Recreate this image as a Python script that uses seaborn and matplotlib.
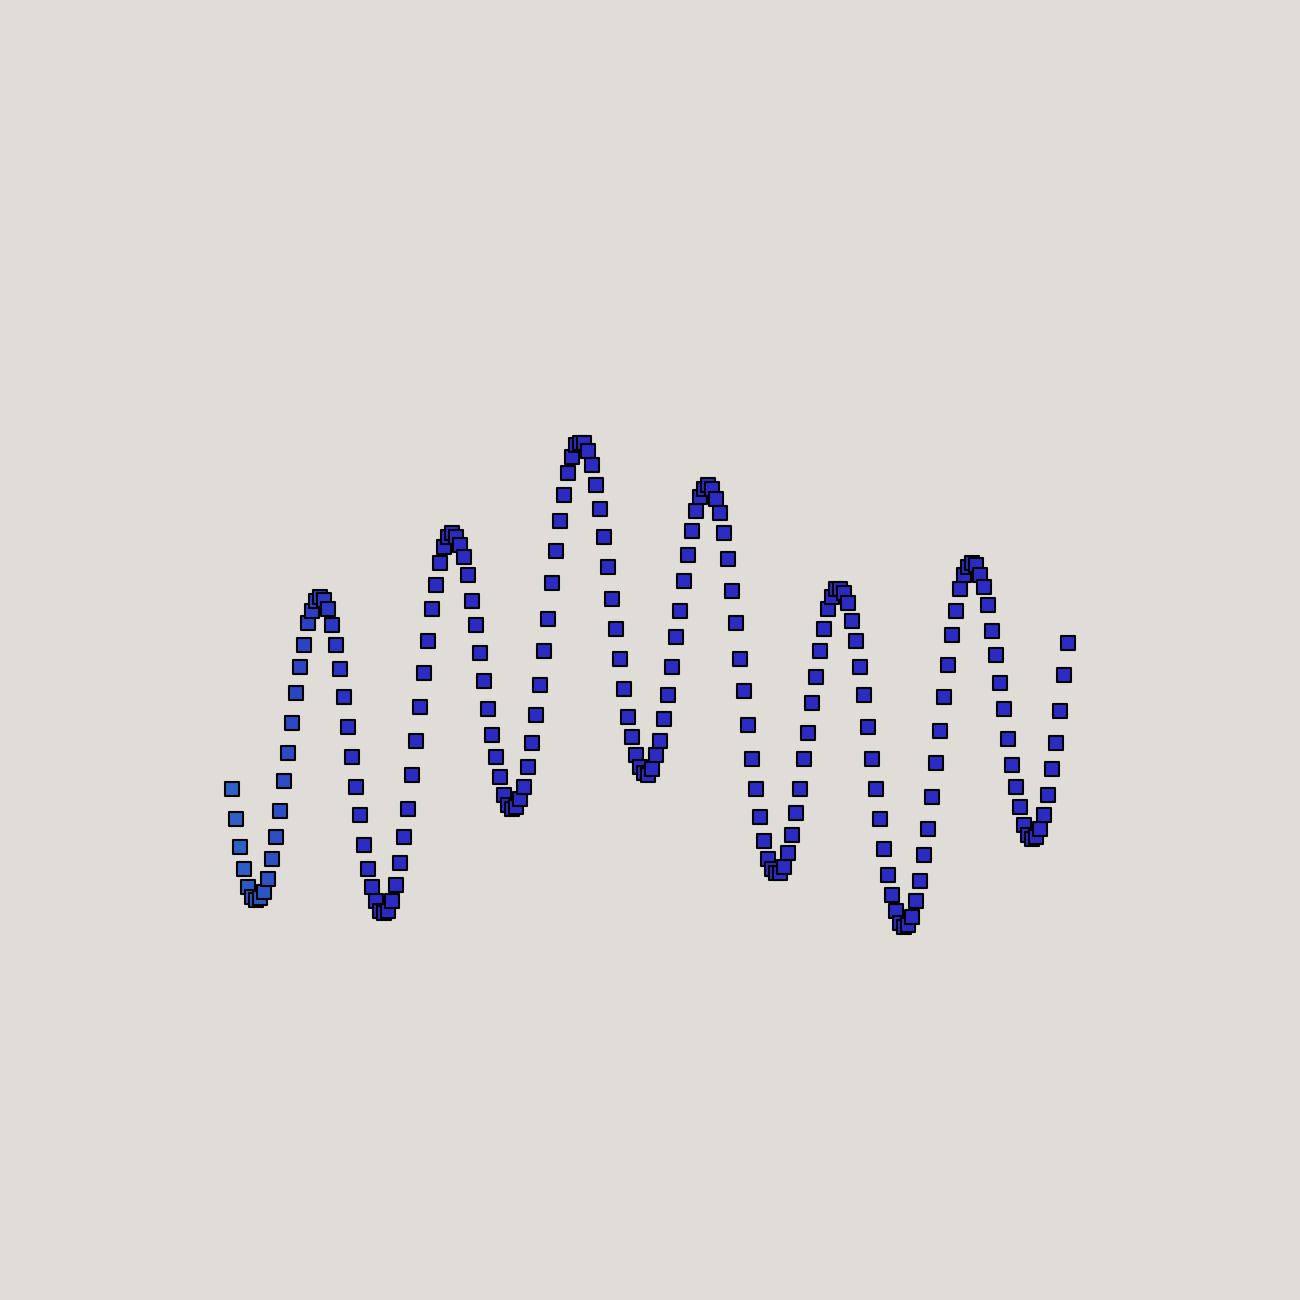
import matplotlib
matplotlib.use("Agg")
import matplotlib.pyplot as plt
from matplotlib.colors import LinearSegmentedColormap
import seaborn as sns
import pandas as pd

# sample index and signal height
step = list(range(210))
signal = [
    511, 481, 453, 431, 413, 403, 400, 402, 408, 421,
    441, 463, 489, 519, 547, 577, 607, 633, 655, 677,
    689, 699, 703, 700, 691, 675, 655, 631, 603, 573,
    543, 513, 485, 455, 431, 413, 399, 389, 387, 389,
    399, 415, 437, 463, 491, 525, 559, 593, 627, 659,
    691, 715, 737, 753, 763, 767, 763, 755, 743, 725,
    699, 675, 647, 619, 591, 565, 543, 523, 505, 495,
    491, 493, 501, 513, 533, 557, 585, 615, 649, 681,
    717, 749, 779, 805, 827, 843, 855, 857, 857, 849,
    835, 815, 791, 763, 733, 701, 671, 641, 611, 583,
    563, 545, 533, 527, 525, 531, 545, 559, 581, 605,
    633, 663, 689, 719, 745, 769, 789, 803, 811, 815,
    811, 801, 787, 767, 741, 709, 677, 641, 609, 575,
    541, 511, 483, 459, 441, 431, 427, 427, 433, 447,
    465, 487, 511, 541, 567, 597, 623, 649, 671, 691,
    703, 711, 711, 707, 697, 679, 659, 633, 605, 573,
    541, 511, 481, 451, 425, 405, 389, 377, 373, 375,
    383, 399, 419, 445, 471, 503, 537, 569, 603, 635,
    665, 689, 711, 725, 733, 737, 735, 725, 713, 695,
    669, 645, 617, 591, 561, 535, 513, 493, 475, 465,
    461, 463, 471, 485, 505, 531, 557, 589, 625, 657,
]

df = pd.DataFrame({"step": step, "signal": signal})

background_color = "#e0ddd9"
cmap = LinearSegmentedColormap.from_list("fade", ["#2c62c6", "#2b2bc4"])

f = plt.figure(figsize=(13, 13), dpi=100)
f.set_facecolor(background_color)
ax = f.add_axes([0, 0, 1, 1])
ax.set_facecolor(background_color)

sns.scatterplot(data=df, x="step", y="signal",
                hue="step", palette=cmap, hue_norm=(0, 32),
                marker="s", s=108,
                edgecolor="black", linewidth=1.5,
                legend=False, ax=ax)

ax.set_xlim(-58, 267)
ax.set_ylim(0, 1300)
ax.axis("off")

plt.savefig("out.png", facecolor=background_color)
